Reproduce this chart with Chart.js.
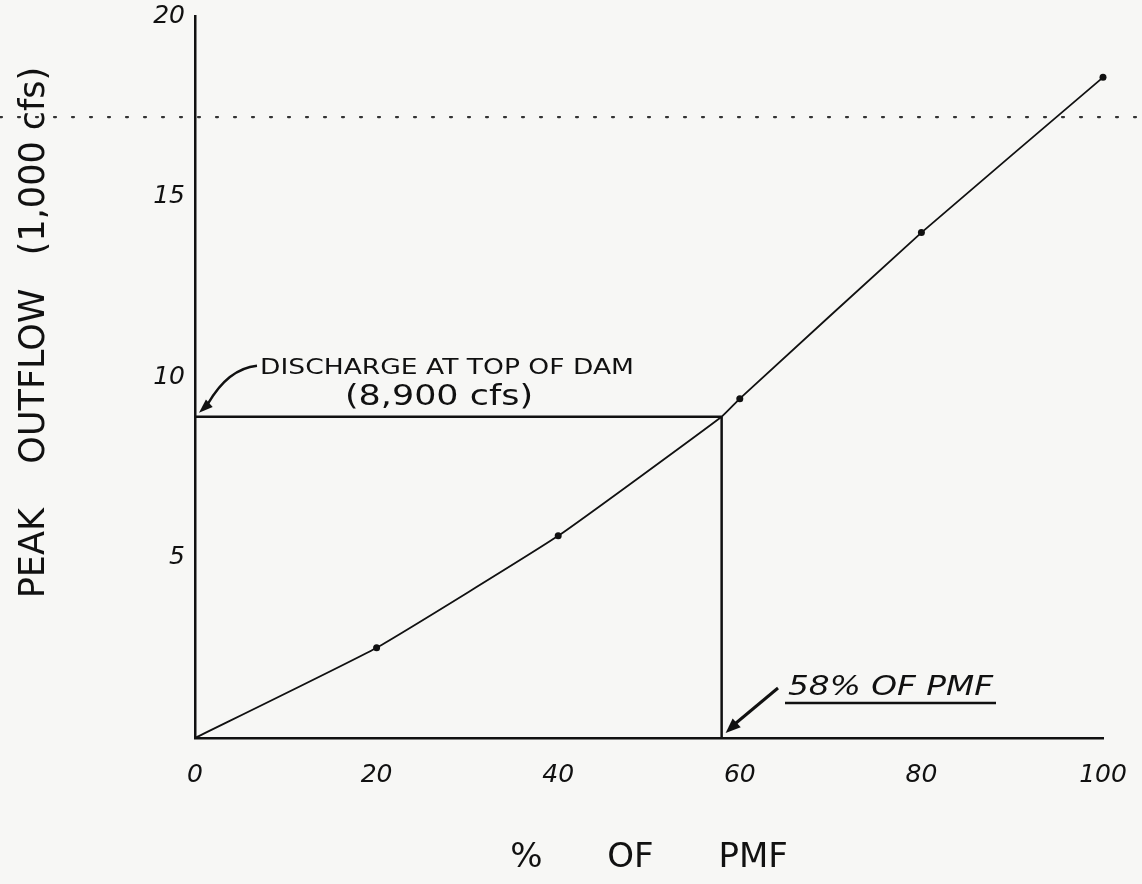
<!DOCTYPE html>
<html>
<head>
<meta charset="utf-8">
<script src="https://cdn.jsdelivr.net/npm/chart.js@4"></script>
<style>
  html, body { margin: 0; padding: 0; background: #f7f7f5; }
  #wrap { width: 1142px; height: 884px; }
</style>
</head>
<body>
<div id="wrap"><canvas id="c" width="1142" height="884"></canvas></div>
<script>
// ---- data ----
const percentPmf   = [0, 20, 40, 58, 60, 80, 100];
const peakOutflow  = [0, 2.5, 5.6, 8.9, 9.4, 14.0, 18.3];
const markedPoint  = [false, true, true, false, true, true, true];
const xTicks = [0, 20, 40, 60, 80, 100];
const yTicks = [5, 10, 15, 20];
const dischargeTopOfDam = 8.9;   // 1,000 cfs
const pmfAtTopOfDam     = 58;    // % of PMF
const dottedLevel       = 17.2;  // 1,000 cfs

const INK = '#111';
const FONT = '"DejaVu Sans", sans-serif';

const curveData = percentPmf.map((x, i) => ({ x, y: peakOutflow[i] }));
const horizData = [{ x: 0, y: dischargeTopOfDam }, { x: pmfAtTopOfDam, y: dischargeTopOfDam }];
const vertData  = [{ x: pmfAtTopOfDam, y: 0 }, { x: pmfAtTopOfDam, y: dischargeTopOfDam }];

function arrowHead(ctx, tipX, tipY, fromX, fromY, len, wid) {
  const a = Math.atan2(tipY - fromY, tipX - fromX);
  ctx.beginPath();
  ctx.moveTo(tipX, tipY);
  ctx.lineTo(tipX - len * Math.cos(a) + wid * Math.sin(a), tipY - len * Math.sin(a) - wid * Math.cos(a));
  ctx.lineTo(tipX - len * Math.cos(a) - wid * Math.sin(a), tipY - len * Math.sin(a) + wid * Math.cos(a));
  ctx.closePath();
  ctx.fill();
}

function fitText(ctx, text, x, y, width) {
  const w = ctx.measureText(text).width;
  ctx.save();
  ctx.translate(x, y);
  ctx.scale(width / w, 1);
  ctx.fillText(text, 0, 0);
  ctx.restore();
}

const annotate = {
  id: 'annotate',
  beforeDatasetsDraw(chart) {
    const { ctx, scales: { y } } = chart;
    const py = y.getPixelForValue(dottedLevel);
    ctx.save();
    ctx.strokeStyle = '#333';
    ctx.lineWidth = 2.2;
    ctx.setLineDash([2, 16]);
    ctx.lineCap = 'round';
    ctx.beginPath();
    ctx.moveTo(0, py);
    ctx.lineTo(chart.width, py);
    ctx.stroke();
    ctx.restore();
  },
  afterDraw(chart) {
    const { ctx, scales: { x, y } } = chart;
    ctx.save();
    ctx.fillStyle = INK;
    ctx.strokeStyle = INK;
    ctx.textBaseline = 'middle';
    ctx.textAlign = 'left';

    // discharge annotation
    const tipX = x.getPixelForValue(0) + 4, tipY = y.getPixelForValue(dischargeTopOfDam) - 4;
    const lineY = y.getPixelForValue(dischargeTopOfDam);
    const t1x = 260, t1y = lineY - 48;
    ctx.font = '22px ' + FONT;
    fitText(ctx, 'DISCHARGE AT TOP OF DAM', t1x, t1y, 374);
    ctx.font = '28px ' + FONT;
    fitText(ctx, '(8,900 cfs)', 345, lineY - 19, 188);
    ctx.lineWidth = 2.4;
    ctx.beginPath();
    ctx.moveTo(t1x - 3, t1y - 3);
    ctx.quadraticCurveTo(228, t1y, tipX + 9, tipY - 9);
    ctx.stroke();
    arrowHead(ctx, tipX, tipY, tipX + 12, tipY - 11, 14, 5);

    // 58% annotation
    const bx = x.getPixelForValue(pmfAtTopOfDam) + 4, by = y.getPixelForValue(0) - 5;
    const t2x = 788, t2y = by - 45;
    ctx.font = 'italic 27px ' + FONT;
    fitText(ctx, '58% OF PMF', t2x, t2y, 205);
    ctx.lineWidth = 2.5;
    ctx.beginPath();
    ctx.moveTo(t2x - 3, t2y + 15);
    ctx.lineTo(t2x + 208, t2y + 15);
    ctx.stroke();
    ctx.lineWidth = 3;
    ctx.beginPath();
    ctx.moveTo(t2x - 10, t2y);
    ctx.lineTo(bx + 8, by - 8);
    ctx.stroke();
    arrowHead(ctx, bx, by, bx + 12, by - 11, 15, 6);
    ctx.restore();
  }
};

new Chart(document.getElementById('c'), {
  type: 'line',
  data: {
    datasets: [
      {
        data: curveData,
        borderColor: INK,
        borderWidth: 1.8,
        tension: 0.12,
        clip: false,
        pointRadius: markedPoint.map(m => m ? 3.5 : 0),
        pointBackgroundColor: INK,
        pointBorderWidth: 0
      },
      { data: horizData, borderColor: INK, borderWidth: 2.5, pointRadius: 0 },
      { data: vertData,  borderColor: INK, borderWidth: 2.5, pointRadius: 0 }
    ]
  },
  plugins: [annotate],
  options: {
    responsive: false,
    animation: false,
    devicePixelRatio: 1,
    layout: { padding: { left: 0, right: 39, top: 16, bottom: 0 } },
    plugins: { legend: { display: false }, tooltip: { enabled: false } },
    scales: {
      x: {
        type: 'linear',
        min: 0, max: 100,
        afterBuildTicks: s => { s.ticks = xTicks.map(v => ({ value: v })); },
        afterFit: s => { s.height = 884 - 738; s.paddingLeft = 0; s.paddingRight = 0; },
        grid: { display: false, drawTicks: false },
        border: { display: true, color: INK, width: 2.5 },
        ticks: { color: INK, padding: 22, font: { family: FONT, size: 25, style: 'italic' } },
        title: {
          display: true,
          text: '%      OF      PMF',
          color: INK,
          font: { family: FONT, size: 34 },
          padding: { top: 0, bottom: 5 }
        }
      },
      y: {
        type: 'linear',
        min: 0, max: 20,
        afterBuildTicks: s => { s.ticks = yTicks.map(v => ({ value: v })); },
        afterFit: s => { s.width = 195; s.paddingTop = 0; s.paddingBottom = 0; },
        grid: { display: false, drawTicks: false },
        border: { display: true, color: INK, width: 2.5 },
        ticks: { color: INK, padding: 10, font: { family: FONT, size: 25, style: 'italic' } },
        title: {
          display: true,
          text: '        PEAK    OUTFLOW   (1,000 cfs)',
          color: INK,
          font: { family: FONT, size: 35 },
          padding: { top: 14, bottom: 0 }
        }
      }
    }
  }
});
</script>
</body>
</html>
